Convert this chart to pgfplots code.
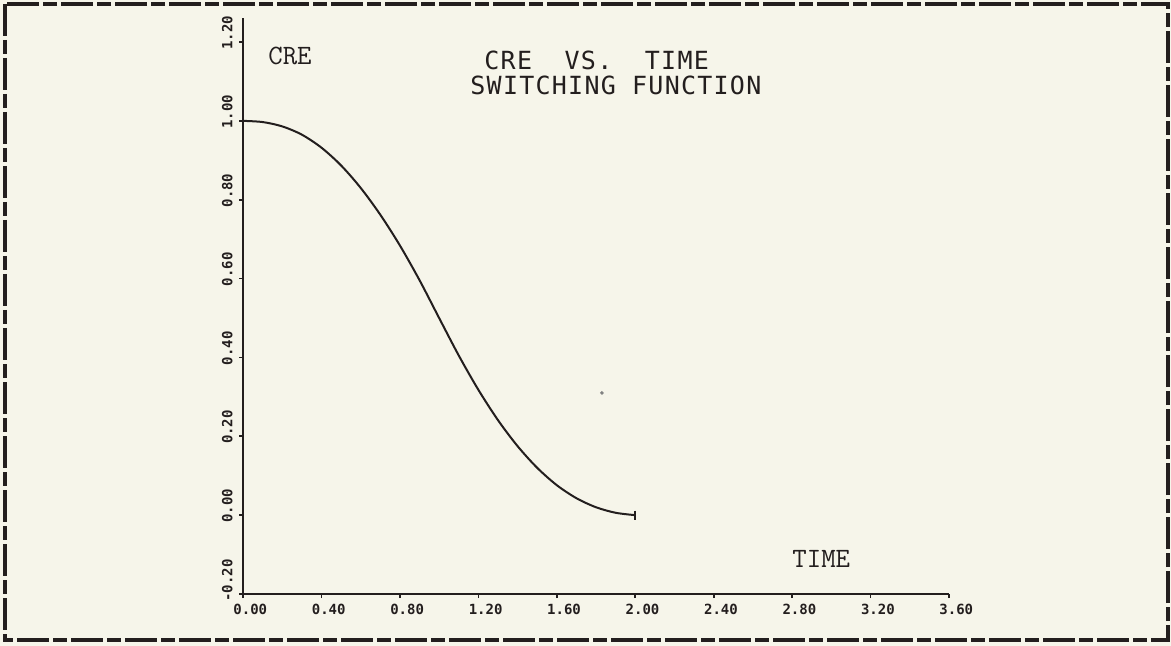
\documentclass[border=0pt]{standalone}
\usepackage{fontspec}
\usepackage{pgfplots}
\pgfplotsset{compat=1.18}
\newfontfamily\titlefont{DejaVu Sans Mono}[LetterSpace=5]
\newfontfamily\ticfont{DejaVu Sans Mono}
\definecolor{paper}{RGB}{246,245,234}
\definecolor{ink}{RGB}{35,30,30}
\begin{document}
\begin{tikzpicture}
\fill[paper] (0,0) rectangle (585.5pt,-323pt);
\useasboundingbox (0,0) rectangle (585.5pt,-323pt);
\draw[ink, line width=1.6pt, dash pattern=on 16pt off 2pt on 7pt off 2pt] (2.5pt,-2pt) rectangle (584pt,-320pt);
\begin{axis}[
  at={(121.5pt,-297pt)}, anchor=south west,
  x=98.06pt, y=197.14pt,
  xmin=0, xmax=3.6, ymin=-0.2, ymax=1.26,
  axis lines=left,
  axis line style={-, ink, line width=1.1pt},
  xtick={0,0.4,0.8,1.2,1.6,2.0,2.4,2.8,3.2,3.6},
  xticklabels={0.00,0.40,0.80,1.20,1.60,2.00,2.40,2.80,3.20,3.60},
  ytick={-0.2,0,0.2,0.4,0.6,0.8,1.0,1.2},
  yticklabels={-0.20,0.00,0.20,0.40,0.60,0.80,1.00,1.20},
  tick align=outside, major tick length=2pt,
  tick style={ink, line width=0.8pt},
  xticklabel style={font=\ticfont\bfseries\fontsize{7}{8}\selectfont, text=ink, anchor=north west, inner sep=0pt, xshift=-5pt, yshift=-3pt},
  yticklabel style={font=\ticfont\bfseries\fontsize{7}{8}\selectfont, text=ink, xshift=-3pt, yshift=-4pt, rotate=90, anchor=south west, inner sep=0pt},
  clip=false,
]
\addplot[ink, line width=1pt, smooth, tension=0.5, mark=|, mark size=2.3pt, mark indices={21}, mark options={line width=0.9pt}] coordinates {
(0.0,1.000) (0.1,0.997) (0.2,0.986) (0.3,0.965) (0.4,0.932)
(0.5,0.887) (0.6,0.830) (0.7,0.762) (0.8,0.684) (0.9,0.596)
(1.0,0.500) (1.1,0.405) (1.2,0.318) (1.3,0.241) (1.4,0.175)
(1.5,0.120) (1.6,0.076) (1.7,0.043) (1.8,0.020) (1.9,0.006)
(2.0,0.000)};
\addplot[only marks, mark=*, mark size=0.7pt, gray] coordinates {(1.83,0.31)};
\end{axis}
\node[anchor=base west, inner sep=0pt, font=\titlefont\fontsize{12.5}{14}\selectfont, text=ink] at (242pt,-35pt) {CRE\ \ VS.\ \ TIME};
\node[anchor=base west, inner sep=0pt, font=\titlefont\fontsize{12.5}{14}\selectfont, text=ink] at (235pt,-47.5pt) {SWITCHING FUNCTION};
\node[anchor=base west, inner sep=0pt, font=\ttfamily\fontsize{14}{15}\selectfont\addfontfeatures{LetterSpace=5}, text=ink] at (134pt,-32.5pt) {CRE};
\node[anchor=base west, inner sep=0pt, font=\ttfamily\fontsize{14}{15}\selectfont\addfontfeatures{LetterSpace=5}, text=ink] at (396pt,-283.5pt) {TIME};
\end{tikzpicture}
\end{document}
